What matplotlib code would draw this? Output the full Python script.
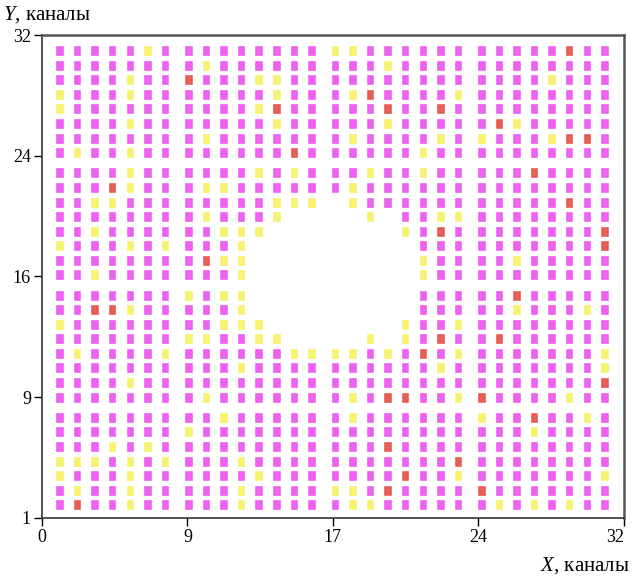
import matplotlib
matplotlib.use("Agg")
import matplotlib.pyplot as plt
from matplotlib.patches import Rectangle

plt.rcParams["font.family"] = "Liberation Serif"
plt.rcParams["mathtext.fontset"] = "custom"
plt.rcParams["mathtext.it"] = "Liberation Serif:italic"
plt.rcParams["mathtext.rm"] = "Liberation Serif"

# detector cells, rows from top (Y=32) to bottom, columns X=1..31
# M - normal, Y - weak, R - hot, . - no signal
cells = [
    "MMMMMYMMMM" "MMMMMYYMMMM" "MMMMMMMRMM",
    "MMMMMMMMYM" "MMMMMMMMYMM" "MMMMMMMMMM",
    "MMMMYMMRMM" "MYYMMMMMMMM" "MMMMMMYMMM",
    "YMMMYMMMMM" "MMYMMMYRMMM" "MYMMMMMMMM",
    "YMMMMMMMMM" "MYRMMMMMRMM" "RMMMMMMMMM",
    "MMMMYMMMMM" "MMYMMMMMYMM" "MMMRYMMMMM",
    "MMMMMMMMYM" "MMMMMMYMMMM" "YMYMMMYRRM",
    "MYMMYMMMMM" "MMMRMMMMMMY" "MMMMMMMMMM",
    "MMMMYMMMMM" "MYMYMMMYMMY" "MMMMMRMMMM",
    "MMMRYMMMYY" "MMMMMMYMMMM" "MMMMMMMMMM",
    "MMYYMMMMMM" "MMYYY.YMMMM" "MMMMMMMRMM",
    "MMMMMMMMYM" "MMY....Y.MM" "YYMMMMMMMM",
    "MMYMMMMMMY" "YY.......YM" "RMMMMMMMMR",
    "YMMMYMYMMM" "Y.........M" "MMMMMMMMMR",
    "MMMMMMMMRY" "Y.........Y" "MMMMYMMMMM",
    "MMYMMMMMMM" "Y.........Y" "MMMMMMMMMM",
    "MMMMMMMYMY" "Y.........M" "MMMMRMMMMM",
    "MMRRYMMMMM" "Y.........M" "MMMMYMMMYM",
    "YMMMMMMMMY" "YY.......YM" "MYMMMMMMMM",
    "MMMMMMMYYM" "MYY....Y.YM" "RMMRMMMMMM",
    "MYMMMMYMMM" "MMMYYYYMYMR" "MYMMMMMMMY",
    "MMMMMMMMMM" "YMMMMMMMMMM" "YMMMMMMMMY",
    "MMMMYMMMMM" "MMMMMMMMMMM" "MMMMMMMMMR",
    "MMMMMMMMYM" "MMMMMMYMRRM" "MYRMMMMYMM",
    "MMMMMMMMMY" "MMMMMMYMMMM" "MMYMMRMMYM",
    "MMMMMMMYMM" "MMMMMMMMMMM" "MMMMMYMMMM",
    "MMMYMYMMMM" "MMMMMMMMRMM" "MMMMMMMMMM",
    "YYYMYMYMMM" "YMMMMMMMMMM" "MRMMMMMMMM",
    "YMMMYMMMMM" "MYMMMMMMMRM" "MYMMMMMMMY",
    "MYMMYMMMMM" "YMMMMYYMRMM" "MMRMMMMMMM",
    "MRMMYMMMMM" "YMMMMMYYMMM" "MMMYMYMYMM",
]

x_ticklabels = ["0", "9", "17", "24", "32"]
y_ticklabels = ["1", "9", "16", "24", "32"]

colors = {"M": "#ec5cf0", "Y": "#f7f26a", "R": "#e6574f"}


def xpos(c):
    # columns grouped in modules: 7 + 8 + 8 + 8
    module = 0 if c <= 7 else (c - 8) // 8 + 1
    return 0.99 + (c - 1) * 0.967 + module * 0.32


def ypos(r):
    # rows from bottom: 7 + 8 + 8 + 8
    module = 0 if r <= 7 else (r - 8) // 8 + 1
    return 0.84 + (r - 1) * 0.965 + module * 0.38


fig = plt.figure(figsize=(6.32, 5.77), dpi=100)
ax = fig.add_axes([0.0665, 0.1023, 0.9205, 0.837])

w, h = 0.30, 0.53
nrows = len(cells)
for i, row in enumerate(cells):
    r = nrows - i
    for j, ch in enumerate(row):
        if ch == ".":
            continue
        col = colors[ch]
        ax.add_patch(Rectangle((xpos(j + 1) - w / 2, ypos(r) - h / 2), w, h,
                               facecolor=col, edgecolor=col, linewidth=1.2,
                               alpha=0.95))

ax.set_xlim(0, 32)
ax.set_ylim(0, 32)
ax.set_xticks([0, 8, 16, 24, 32])
ax.set_xticklabels(x_ticklabels)
ax.set_yticks([0, 8, 16, 24, 32])
ax.set_yticklabels(y_ticklabels)
ax.tick_params(direction="out", length=6, width=1, labelsize=13, pad=2)
ax.get_xticklabels()[-1].set_horizontalalignment("right")

for side in ["left", "bottom"]:
    ax.spines[side].set_color("#333333")
    ax.spines[side].set_linewidth(1.2)
for side in ["top", "right"]:
    ax.spines[side].set_color("#555555")
    ax.spines[side].set_linewidth(1.8)

fig.text(0.005, 0.975, "$Y$, каналы", fontsize=15, ha="left", va="center")
fig.text(0.997, 0.02, "$X$, каналы", fontsize=15, ha="right", va="center")

fig.savefig("out.png", dpi=100)
